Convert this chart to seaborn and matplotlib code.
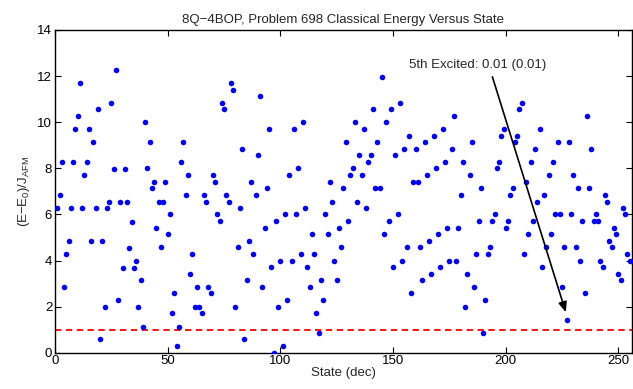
import numpy as np
import pandas as pd
import matplotlib
matplotlib.use("Agg")
import matplotlib.pyplot as plt
import seaborn as sns

# classical energy per state (E-E0)/J_AFM, states 1..255
energy_a = [6.26, 6.84, 8.26, 2.85, 4.27, 4.84, 6.26, 8.26, 9.69, 10.28, 11.68, 6.26, 7.71, 8.26, 9.69, 4.84,
            9.13, 6.26, 10.56, 0.58, 4.84, 2.0, 6.26, 6.55, 10.85, 7.97, 12.26, 2.28, 6.55, 3.69, 7.97, 6.55,
            4.56, 5.68, 3.69, 3.99, 2.0]
energy_b = [3.14, 1.13, 9.99, 8.0, 9.14, 7.13, 7.42, 5.42, 6.55, 4.57, 6.55, 7.42, 5.13, 6.0, 1.71, 2.57,
            0.29, 1.13, 8.29, 9.14, 6.84, 7.71, 3.43, 4.28, 2.0, 2.86, 2.0, 1.71, 6.84, 6.55, 2.86, 2.57,
            7.71, 7.42, 6.0, 5.71, 10.85, 10.56, 6.84, 6.55, 11.68, 11.41]
energy_c = [2.0, 4.57, 6.28, 8.84, 0.58, 3.14, 4.84, 7.42, 4.28, 6.84, 8.56, 11.12, 2.86, 5.42, 7.13, 9.69,
            3.72, 0.0, 5.71, 2.0, 3.99, 0.29, 6.0, 2.28, 7.71, 3.99, 9.69, 6.0, 8.0, 4.28, 9.99, 6.28,
            3.72, 2.86, 5.13, 4.28, 1.71, 0.87, 3.14, 2.28, 6.0, 5.13]
energy_d = [7.42, 6.55, 3.99, 3.14, 5.42, 4.57, 7.13, 9.14, 5.71, 7.71, 8.0, 9.99, 6.55, 8.56, 7.71, 9.69,
            6.28, 8.29, 8.56, 10.56, 7.13, 9.14, 7.13, 11.97, 5.13, 9.99, 5.71, 10.56, 3.72, 8.56, 6.0, 10.85,
            3.99, 8.84, 4.57, 9.41, 2.57, 7.42, 8.84, 7.42, 4.57, 3.14, 9.14]
energy_e = [7.71, 4.84, 3.43, 9.41, 8.0, 5.13, 3.72, 9.69, 8.29, 5.42, 3.99, 8.84, 10.28, 3.99, 5.42, 6.84,
            8.29, 2.0, 3.43, 7.71, 9.14, 2.86, 4.28, 5.71, 7.13, 0.87, 2.28, 4.28, 4.57, 5.71, 6.0, 8.0,
            8.29, 9.41, 9.69, 5.42, 5.71, 6.84, 7.13, 9.14, 9.41]
energy_f = [10.56, 10.85, 4.28, 7.42, 5.13, 8.29, 5.71, 8.84, 6.55, 9.69, 3.72, 6.84, 4.57, 7.71, 5.13, 8.29,
            6.0, 9.14, 6.0, 2.86, 4.57, 1.42, 9.14, 6.0, 7.71, 4.57, 7.13, 3.99, 5.71, 2.57, 10.28, 7.13,
            8.84, 5.71, 6.0, 5.71, 3.99, 3.72, 6.84, 6.55, 4.84, 4.57, 5.42, 5.13, 3.43, 3.14, 6.28, 6.0,
            4.28, 3.99]

energy = energy_a + energy_b + energy_c + energy_d + energy_e + energy_f
states = np.arange(1, len(energy) + 1)
df = pd.DataFrame({"state": states, "energy": energy})

excited_state = 227
excited_energy = 1.42
reference_level = 1.0

sns.set_style("ticks")
plt.rcParams['font.family'] = ['Liberation Sans', 'DejaVu Sans']
plt.rcParams['mathtext.default'] = 'regular'
plt.rcParams['xtick.direction'] = 'in'
plt.rcParams['ytick.direction'] = 'in'

fig = plt.figure(figsize=(6.33, 3.89), dpi=100)
ax = fig.add_axes([0.0869, 0.0933, 0.9115, 0.8296])

sns.scatterplot(data=df, x="state", y="energy", color="blue", s=16, linewidth=0, ax=ax, zorder=3)
ax.axhline(reference_level, color="red", linestyle=(0, (3.5, 2.5)), lw=1.3, zorder=2)

ax.text(157, 12.5, "5th Excited: 0.01 (0.01)", fontsize=9.5, ha="left", va="center")
ax.annotate("", xy=(excited_state, excited_energy + 0.22), xytext=(193.7, 12.08),
            arrowprops=dict(arrowstyle="-|>,head_length=0.6,head_width=0.25", color="black", lw=1.2))

ax.set_xlim(0, 256)
ax.set_ylim(0, 14)
ax.set_xticks(range(0, 251, 50))
ax.set_yticks(range(0, 15, 2))
ax.tick_params(top=True, right=True, length=4, width=0.8, labelsize=9.5, pad=2, colors="black")
for s in ax.spines.values():
    s.set_linewidth(1.0)
    s.set_color("black")

ax.set_title("8Q\u22124BOP, Problem 698 Classical Energy Versus State", fontsize=9.5, pad=5)
ax.set_xlabel("State (dec)", fontsize=9.5, labelpad=0)
ax.set_ylabel("(E\u2212E$_0$)/J$_{AFM}$", fontsize=9.5, labelpad=4)

fig.savefig("out.png", dpi=100)
